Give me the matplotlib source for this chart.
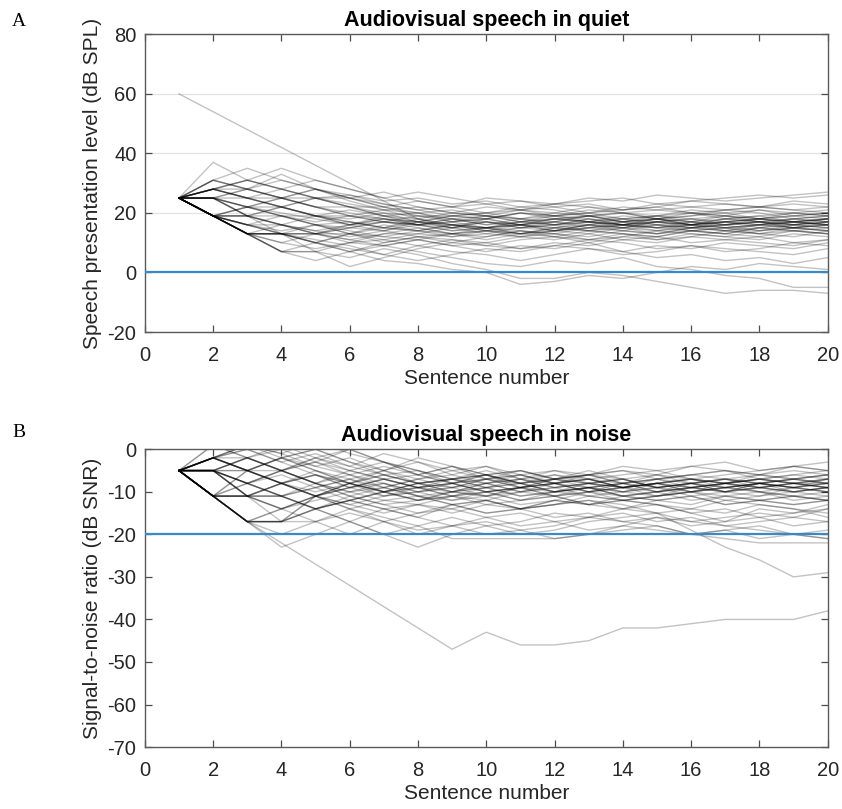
import numpy as np
import matplotlib.pyplot as plt

# Sentence numbers
sentences = np.arange(1, 21)

# Panel A: adaptive tracks, speech level in quiet (dB SPL)
quiet_tracks = [
    [25, 19, 13, 7, 7, 10, 13, 13, 15, 15, 16, 14, 16, 17, 15, 16, 18, 17, 16, 17],
    [25, 19, 13, 13, 10, 13, 15, 14, 16, 17, 15, 16, 14, 15, 17, 16, 15, 16, 17, 16],
    [25, 19, 19, 16, 13, 16, 14, 17, 15, 18, 16, 17, 19, 17, 18, 16, 17, 18, 17, 18],
    [25, 25, 19, 16, 19, 17, 15, 18, 16, 15, 17, 16, 18, 16, 17, 15, 16, 17, 15, 16],
    [25, 28, 25, 22, 19, 16, 19, 17, 19, 18, 20, 18, 17, 19, 18, 20, 19, 18, 20, 19],
    [25, 19, 13, 7, 4, 7, 10, 12, 10, 12, 14, 13, 12, 14, 13, 15, 14, 13, 15, 14],
    [25, 19, 13, 13, 7, 2, 5, 8, 10, 9, 11, 12, 10, 12, 11, 13, 12, 11, 13, 12],
    [25, 25, 22, 19, 19, 16, 17, 15, 13, 14, 16, 15, 16, 14, 13, 15, 14, 16, 15, 14],
    [25, 31, 28, 25, 22, 22, 19, 20, 17, 18, 16, 17, 15, 16, 17, 18, 16, 17, 18, 17],
    [25, 37, 31, 28, 25, 22, 20, 17, 19, 18, 20, 19, 21, 20, 19, 21, 20, 21, 19, 20],
    [25, 19, 19, 13, 13, 10, 11, 9, 11, 10, 12, 11, 13, 11, 12, 10, 11, 12, 10, 11],
    [25, 28, 28, 25, 25, 22, 22, 19, 19, 20, 18, 19, 20, 18, 19, 20, 18, 19, 20, 21],
    [25, 19, 16, 13, 16, 13, 11, 13, 12, 14, 13, 15, 14, 13, 12, 14, 13, 15, 14, 13],
    [25, 25, 25, 22, 25, 23, 21, 22, 20, 22, 21, 23, 22, 20, 21, 22, 23, 22, 23, 22],
    [25, 19, 13, 7, 7, 5, 8, 6, 3, 1, -2, -2, 0, -1, -3, -5, -7, -6, -6, -7],
    [25, 19, 22, 19, 16, 14, 12, 11, 9, 7, 9, 8, 10, 7, 5, 6, 4, 5, 3, 5],
    [25, 28, 31, 35, 31, 28, 25, 22, 20, 19, 21, 20, 22, 21, 23, 22, 21, 22, 24, 23],
    [25, 19, 16, 19, 16, 17, 15, 14, 16, 15, 13, 14, 15, 17, 16, 15, 16, 17, 16, 15],
    [25, 25, 19, 19, 17, 19, 18, 16, 15, 17, 16, 18, 17, 16, 18, 17, 15, 16, 18, 17],
    [60, 54, 48, 42, 36, 30, 24, 18, 15, 13, 12, 14, 13, 15, 14, 16, 15, 14, 16, 15],
    [25, 19, 13, 10, 8, 10, 9, 7, 5, 3, 2, 4, 3, 5, 2, 1, -1, -2, -5, -5],
    [25, 28, 25, 28, 25, 25, 22, 24, 22, 25, 24, 23, 25, 24, 26, 25, 24, 25, 26, 27],
    [25, 19, 13, 13, 13, 11, 13, 15, 13, 14, 12, 13, 15, 14, 16, 15, 17, 16, 17, 18],
    [25, 25, 22, 22, 19, 19, 17, 16, 18, 17, 15, 16, 17, 15, 16, 14, 15, 16, 17, 16],
    [25, 19, 16, 16, 13, 15, 17, 16, 18, 16, 17, 19, 18, 16, 17, 18, 19, 17, 18, 19],
    [25, 31, 28, 33, 28, 24, 21, 18, 16, 14, 13, 15, 14, 16, 15, 14, 13, 15, 14, 13],
    [25, 19, 13, 7, 10, 8, 6, 9, 7, 6, 4, 6, 8, 7, 9, 8, 10, 9, 8, 10],
    [25, 28, 25, 22, 19, 18, 20, 19, 17, 18, 20, 19, 17, 18, 19, 17, 18, 19, 17, 18],
    [25, 25, 28, 25, 22, 20, 18, 17, 16, 15, 17, 16, 18, 17, 19, 18, 17, 18, 19, 18],
    [25, 19, 19, 16, 13, 13, 12, 14, 13, 15, 14, 12, 11, 13, 12, 14, 13, 12, 14, 13],
    [25, 19, 13, 13, 10, 7, 4, 3, 1, 0, -4, -3, -1, -2, 0, 2, 1, 3, 2, 1],
    [25, 28, 31, 28, 25, 26, 24, 25, 23, 24, 22, 23, 24, 25, 23, 24, 25, 26, 25, 26],
    [25, 19, 16, 14, 16, 15, 17, 16, 14, 15, 16, 14, 15, 16, 14, 15, 16, 14, 15, 16],
    [25, 25, 19, 22, 19, 21, 19, 18, 20, 19, 17, 18, 19, 20, 18, 19, 20, 18, 19, 20],
    [25, 19, 13, 16, 14, 12, 14, 12, 13, 11, 13, 12, 14, 13, 11, 12, 14, 13, 12, 14],
    [25, 31, 35, 31, 28, 25, 23, 21, 22, 20, 21, 19, 20, 22, 21, 20, 19, 21, 20, 19],
    [25, 19, 22, 20, 18, 16, 18, 17, 15, 17, 16, 15, 17, 16, 18, 16, 17, 15, 16, 17],
    [25, 25, 22, 19, 16, 13, 10, 12, 11, 9, 8, 10, 9, 11, 10, 12, 11, 10, 9, 11],
    [25, 19, 13, 13, 13, 15, 14, 16, 17, 15, 16, 18, 17, 16, 15, 17, 16, 18, 17, 16],
    [25, 28, 25, 25, 22, 19, 21, 20, 18, 19, 17, 18, 19, 17, 18, 16, 17, 18, 16, 17],
    [25, 19, 22, 25, 22, 19, 17, 19, 18, 16, 18, 17, 19, 18, 16, 17, 19, 18, 17, 18],
    [25, 25, 28, 31, 28, 25, 27, 24, 22, 23, 21, 22, 20, 21, 22, 20, 21, 22, 21, 20],
    [25, 19, 13, 10, 13, 11, 9, 11, 13, 12, 14, 13, 11, 12, 14, 13, 12, 14, 15, 14],
    [25, 28, 25, 22, 25, 22, 19, 16, 14, 15, 13, 14, 16, 15, 13, 14, 15, 13, 14, 15],
    [25, 19, 16, 13, 10, 7, 9, 11, 9, 10, 8, 9, 11, 10, 8, 9, 7, 8, 10, 9],
    [25, 31, 28, 25, 28, 26, 23, 21, 19, 20, 22, 21, 19, 20, 18, 19, 21, 20, 18, 19],
    [25, 19, 19, 22, 19, 17, 15, 17, 16, 14, 15, 17, 16, 18, 17, 16, 18, 17, 16, 18],
    [25, 25, 22, 25, 28, 25, 22, 20, 21, 19, 18, 20, 19, 17, 18, 17, 16, 17, 15, 16],
    [25, 19, 13, 13, 10, 13, 16, 14, 12, 13, 15, 14, 16, 15, 17, 16, 14, 15, 17, 16],
    [25, 28, 31, 28, 31, 28, 25, 27, 25, 23, 24, 22, 23, 21, 22, 24, 23, 22, 21, 22],
    [25, 19, 16, 13, 11, 9, 6, 4, 6, 8, 7, 9, 8, 6, 7, 9, 8, 7, 6, 8],
    [25, 25, 19, 16, 14, 16, 18, 16, 17, 19, 18, 16, 17, 16, 15, 16, 17, 16, 15, 17],
]

# Panel B: adaptive tracks, signal-to-noise ratio in noise (dB SNR)
noise_tracks = [
    [-5, -11, -17, -17, -11, -8, -10, -9, -11, -10, -9, -8, -10, -9, -8, -9, -8, -7, -8, -8],
    [-5, -5, -11, -11, -8, -10, -9, -7, -9, -8, -10, -9, -8, -9, -7, -8, -9, -8, -7, -8],
    [-5, -2, -5, -8, -11, -9, -7, -9, -8, -10, -9, -7, -8, -9, -8, -7, -8, -9, -8, -9],
    [-5, -11, -11, -8, -5, -8, -11, -9, -7, -8, -6, -8, -7, -9, -8, -7, -8, -7, -6, -7],
    [-5, -5, -2, -5, -8, -5, -7, -9, -8, -6, -8, -7, -9, -8, -10, -9, -8, -9, -10, -9],
    [-5, -11, -17, -23, -20, -17, -14, -16, -13, -15, -14, -12, -13, -11, -12, -13, -11, -12, -13, -12],
    [-5, -11, -17, -22, -27, -32, -37, -42, -47, -43, -46, -46, -45, -42, -42, -41, -40, -40, -40, -38],
    [-5, -2, 1, -2, -5, -8, -6, -8, -10, -9, -11, -10, -9, -11, -10, -9, -10, -8, -9, -10],
    [-5, -5, -8, -11, -14, -12, -10, -12, -11, -13, -12, -10, -11, -12, -13, -15, -17, -14, -15, -13],
    [-5, -11, -11, -14, -11, -13, -15, -13, -14, -12, -14, -13, -12, -14, -13, -15, -14, -16, -15, -14],
    [-5, -2, 0, -3, -1, -4, -6, -5, -7, -6, -8, -7, -6, -5, -7, -6, -5, -6, -5, -6],
    [-5, -5, -5, -8, -6, -9, -8, -10, -9, -7, -9, -8, -10, -9, -8, -10, -9, -8, -9, -8],
    [-5, -11, -17, -17, -17, -14, -16, -18, -21, -21, -21, -21, -20, -18, -19, -20, -21, -22, -22, -22],
    [-5, -11, -5, -8, -11, -13, -11, -10, -12, -11, -9, -11, -10, -12, -11, -10, -9, -10, -11, -10],
    [-5, -2, -5, -2, 0, -3, -5, -7, -6, -8, -7, -9, -8, -7, -9, -8, -7, -8, -7, -6],
    [-5, -5, -11, -8, -10, -8, -6, -8, -7, -9, -8, -6, -7, -8, -6, -7, -8, -7, -8, -7],
    [-5, -11, -17, -17, -14, -12, -14, -13, -15, -13, -14, -13, -12, -13, -15, -19, -23, -26, -30, -29],
    [-5, 1, -2, -5, -3, -6, -4, -6, -8, -7, -5, -7, -6, -8, -7, -6, -5, -7, -6, -5],
    [-5, -5, -8, -5, -8, -11, -9, -11, -10, -8, -10, -9, -11, -10, -9, -11, -10, -9, -10, -9],
    [-5, -11, -11, -17, -14, -11, -13, -12, -10, -11, -9, -10, -8, -9, -10, -8, -9, -8, -10, -9],
    [-5, -2, -5, -5, -8, -11, -13, -15, -14, -16, -15, -17, -16, -15, -17, -16, -18, -17, -16, -17],
    [-5, -5, -2, -5, -3, -5, -7, -6, -4, -6, -5, -7, -6, -5, -6, -4, -5, -6, -4, -5],
    [-5, -11, -17, -17, -11, -14, -17, -20, -18, -16, -18, -17, -19, -18, -16, -17, -18, -19, -20, -21],
    [-5, -11, -11, -8, -11, -9, -7, -9, -8, -10, -9, -11, -10, -8, -9, -10, -8, -9, -10, -9],
    [-5, -2, -5, -8, -6, -8, -10, -8, -9, -7, -8, -10, -9, -8, -10, -9, -8, -7, -8, -7],
    [-5, -5, -11, -14, -17, -20, -17, -15, -13, -15, -14, -12, -13, -14, -12, -11, -13, -12, -11, -12],
    [-5, -11, -5, -2, -5, -7, -5, -8, -7, -6, -8, -7, -5, -7, -6, -8, -7, -6, -7, -6],
    [-5, -5, -8, -11, -9, -7, -9, -11, -12, -10, -12, -11, -9, -10, -11, -9, -10, -11, -9, -10],
    [-5, -2, -2, -5, -8, -6, -9, -7, -5, -7, -6, -8, -7, -9, -8, -7, -9, -8, -7, -8],
    [-5, -11, -17, -14, -11, -8, -10, -12, -10, -11, -13, -12, -10, -11, -12, -11, -13, -12, -11, -12],
    [-5, -5, -5, -2, 0, -3, -6, -8, -7, -5, -7, -6, -8, -7, -9, -8, -7, -8, -9, -8],
    [-5, -11, -8, -11, -14, -12, -14, -16, -18, -17, -19, -18, -16, -17, -18, -20, -19, -18, -20, -19],
    [-5, -2, -5, -8, -11, -9, -11, -10, -8, -10, -9, -7, -8, -10, -9, -8, -10, -9, -8, -9],
    [-5, -5, -11, -11, -14, -12, -10, -12, -11, -9, -11, -10, -9, -11, -10, -9, -8, -10, -9, -8],
    [-5, -11, -17, -17, -14, -17, -20, -23, -20, -18, -20, -19, -17, -16, -15, -14, -15, -13, -14, -15],
    [-5, -2, 1, -1, -4, -2, -5, -3, -6, -4, -7, -5, -6, -4, -5, -4, -3, -5, -4, -3],
    [-5, -5, -8, -6, -9, -7, -10, -8, -7, -9, -8, -10, -9, -8, -7, -9, -8, -7, -8, -9],
    [-5, -11, -11, -14, -12, -10, -8, -10, -9, -11, -10, -8, -9, -10, -8, -9, -10, -8, -9, -7],
    [-5, -2, -5, -8, -11, -14, -12, -13, -11, -12, -14, -13, -11, -12, -13, -14, -12, -13, -14, -16],
    [-5, -5, -2, -5, -8, -10, -12, -11, -13, -12, -10, -11, -13, -12, -11, -10, -12, -11, -10, -11],
    [-5, 1, -2, 1, -2, -5, -3, -6, -8, -7, -9, -8, -7, -9, -8, -7, -8, -6, -7, -8],
    [-5, -2, 1, -1, 2, -1, -3, -6, -4, -7, -6, -8, -7, -9, -8, -10, -9, -8, -9, -10],
    [-5, -5, -2, 0, -3, 0, -3, -5, -8, -6, -9, -8, -10, -9, -11, -10, -9, -10, -11, -12],
    [-5, -11, -8, -5, -2, 0, -3, -5, -7, -6, -8, -10, -9, -11, -10, -12, -11, -10, -12, -11],
    [-5, -11, -17, -14, -11, -8, -5, -2, -4, -6, -5, -7, -6, -8, -7, -6, -7, -8, -7, -6],
    [-5, -5, -8, -5, -2, -4, -1, -3, -5, -4, -6, -5, -7, -6, -5, -7, -6, -5, -4, -5],
    [-5, -2, -5, -2, -4, -6, -8, -11, -13, -12, -14, -16, -15, -17, -16, -18, -17, -16, -18, -17],
    [-5, -11, -11, -11, -14, -17, -20, -18, -16, -18, -17, -15, -16, -14, -15, -17, -16, -15, -16, -14],
    [-5, -5, -11, -8, -6, -9, -7, -9, -10, -8, -7, -9, -8, -7, -9, -8, -10, -9, -8, -9],
    [-5, -2, 0, -3, -6, -8, -10, -9, -11, -10, -12, -11, -13, -12, -11, -10, -11, -12, -13, -12],
    [-5, -11, -17, -20, -17, -15, -17, -19, -18, -20, -19, -21, -20, -19, -18, -20, -19, -21, -20, -21],
    [-5, -5, -8, -11, -9, -12, -10, -8, -10, -9, -7, -8, -6, -7, -9, -8, -7, -9, -8, -7],
]

quiet_ref = 0
noise_ref = -20

plt.rcParams['font.family'] = ['Liberation Sans', 'DejaVu Sans']
plt.rcParams['axes.unicode_minus'] = False

fig = plt.figure(figsize=(8.42, 8.09), dpi=100)
axA = fig.add_axes([0.172, 0.5896, 0.811, 0.368])
axB = fig.add_axes([0.172, 0.0766, 0.811, 0.368])

panels = [
    (axA, quiet_tracks, quiet_ref, (-20, 80), np.arange(-20, 81, 20),
     'Audiovisual speech in quiet', 'Speech presentation level (dB SPL)', True),
    (axB, noise_tracks, noise_ref, (-70, 0), np.arange(-70, 1, 10),
     'Audiovisual speech in noise', 'Signal-to-noise ratio (dB SNR)', False),
]

for ax, tracks, ref, ylim, yticks, title, ylabel, grid in panels:
    for tr in tracks:
        ax.plot(sentences, tr, color='k', alpha=0.24, lw=1.0, zorder=2)
    ax.axhline(ref, color='#3b88c4', lw=1.6, zorder=3)
    ax.set_xlim(0, 20)
    ax.set_ylim(*ylim)
    ax.set_xticks(np.arange(0, 21, 2))
    ax.set_yticks(yticks)
    if grid:
        ax.yaxis.grid(True, color='#e3e3e3', lw=0.9, zorder=0)
        ax.set_axisbelow(True)
    ax.tick_params(axis='both', direction='in', top=True, right=True, length=5, width=0.9,
                   labelsize=14.5, colors='#4d4d4d', labelcolor='#262626')
    ax.tick_params(axis='x', pad=10)
    ax.tick_params(axis='y', pad=6)
    for sp in ax.spines.values():
        sp.set_color('#5a5a5a')
        sp.set_linewidth(1.0)
    ax.set_title(title, fontsize=15.5, fontweight='bold', pad=6)
    ax.set_xlabel('Sentence number', fontsize=15, color='#262626', labelpad=3)
    ax.set_ylabel(ylabel, fontsize=15, color='#262626', labelpad=4)

fig.text(0.022, 0.973, 'A', family='Liberation Serif', fontsize=14, va='center', ha='center')
fig.text(0.022, 0.466, 'B', family='Liberation Serif', fontsize=14, va='center', ha='center')

fig.savefig('out.png', dpi=100)
